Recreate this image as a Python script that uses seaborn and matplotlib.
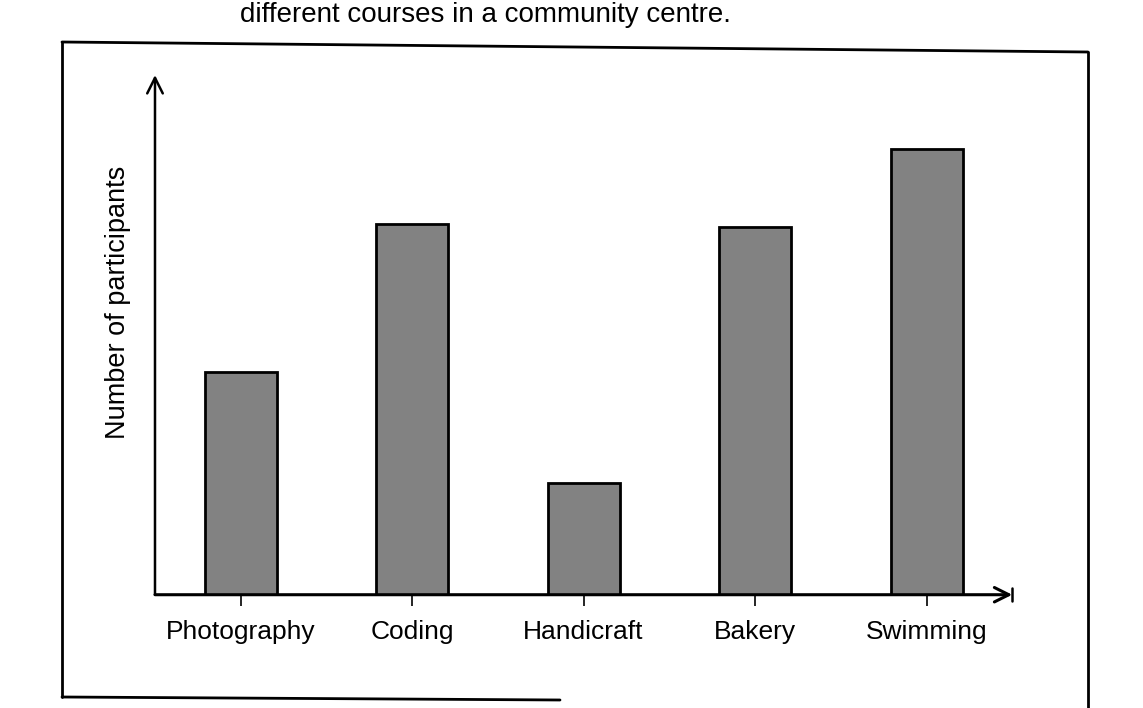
import matplotlib
matplotlib.use("Agg")
import matplotlib.pyplot as plt
import seaborn as sns
import pandas as pd
from matplotlib.lines import Line2D

# courses and (estimated) participant counts - no scale printed on the chart
courses = ['Photography', 'Coding', 'Handicraft', 'Bakery', 'Swimming']
participants = [60, 100, 30, 99, 120]

df = pd.DataFrame({'Course': courses, 'Participants': participants})

sns.set_style('white')
plt.rcParams['font.family'] = ['Liberation Sans', 'DejaVu Sans']
plt.rcParams['text.color'] = 'black'
plt.rcParams['axes.labelcolor'] = 'black'

fig = plt.figure(figsize=(11.43, 7.08), dpi=100)
ax = fig.add_axes([0.1356, 0.16, 0.75, 0.734])

sns.barplot(data=df, x='Course', y='Participants', color='#828282',
            width=0.42, edgecolor='black', linewidth=2.0, saturation=1, ax=ax)

ax.set_xlim(-0.5, 4.5)
ax.set_ylim(0, 140)
for s in ax.spines.values():
    s.set_visible(False)
ax.set_yticks([])
ax.tick_params(axis='x', length=8, width=1.2, direction='out', pad=10,
               labelsize=19, colors='black', bottom=True)
ax.set_xlabel('')
ax.set_ylabel('Number of participants', fontsize=19.5, color='black')
ax.yaxis.set_label_coords(-0.028, 0.563)

# axis arrows
ax.annotate('', xy=(0, 1), xytext=(0, 0), xycoords='axes fraction',
            arrowprops=dict(arrowstyle='->', lw=1.8, color='black',
                            mutation_scale=28, shrinkA=0, shrinkB=0))
ax.annotate('', xy=(1, 0), xytext=(0, 0), xycoords='axes fraction',
            arrowprops=dict(arrowstyle='->', lw=2.2, color='black',
                            mutation_scale=26, shrinkA=0, shrinkB=0))
ax.plot([1, 1], [-0.012, 0.012], transform=ax.transAxes, color='black',
        lw=1.8, clip_on=False)

# frame around the figure (scanned worksheet box)
W, H = 1143, 708
def fline(x0, y0, x1, y1, lw=2.0):
    fig.add_artist(Line2D([x0 / W, x1 / W], [1 - y0 / H, 1 - y1 / H],
                          color='black', lw=lw))

fline(62, 42, 1088, 52)
fline(62, 42, 62, 697)
fline(62, 697, 560, 700)
fline(1088, 52, 1088, 708)

# caption line at the top of the scan
fig.text(240 / W, 1 - 22 / H, 'different courses in a community centre.',
         fontsize=20, va='baseline', ha='left', color='black')

fig.savefig('out.png', dpi=100)
